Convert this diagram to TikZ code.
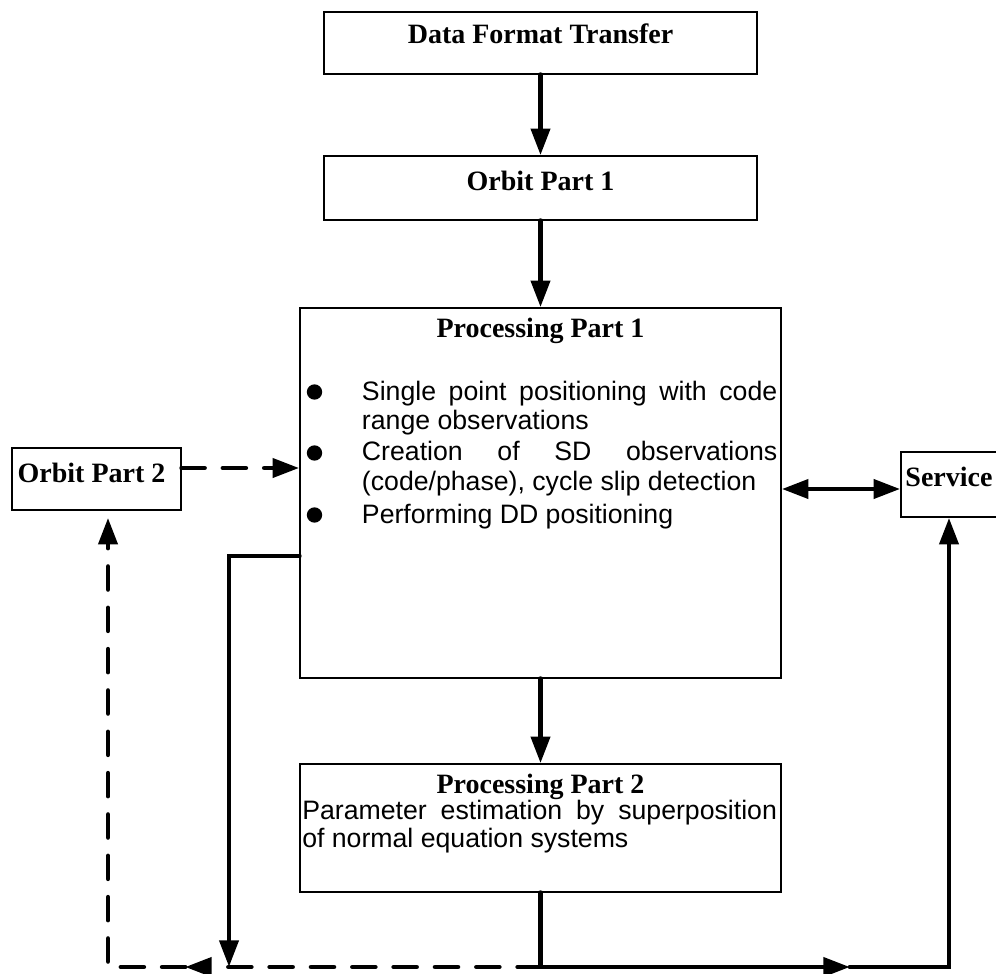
\documentclass[tikz,border=0pt]{standalone}
\usepackage{fontspec}
\setmainfont{Liberation Serif}
\newfontfamily\arialf{Liberation Sans}
\usetikzlibrary{arrows.meta,calc}
\begin{document}
\begin{tikzpicture}[x=0.75pt,y=-0.75pt,
  box/.style={draw, line width=1.1pt, inner sep=0pt, rectangle},
  ttl/.style={font=\bfseries\fontsize{21}{24}\selectfont, inner sep=0pt, anchor=base},
  body/.style={font=\arialf\fontsize{20}{23}\selectfont, inner sep=0pt, anchor=base west},
  conn/.style={line width=3.7pt, line cap=round, line join=miter},
  tip/.style={-{Triangle[length=20pt,width=14pt]}},
  dbltip/.style={{Triangle[length=20pt,width=14pt]}-{Triangle[length=20pt,width=14pt]}},
  dsh/.style={dash pattern=on 17pt off 14pt},
  dot/.style={circle, fill, inner sep=0pt, minimum size=11.5pt}]
\useasboundingbox (0,0) rectangle (996,974);
\clip (0,0) rectangle (996,974);

% boxes
\node[box, minimum width=324.75pt, minimum height=46.5pt] (dft) at (540.5,43) {};
\node[box, minimum width=324.75pt, minimum height=48pt] (o1) at (540.5,188) {};
\node[box, minimum width=360.75pt, minimum height=277.5pt] (p1) at (540.5,493) {};
\node[box, minimum width=360.75pt, minimum height=96pt] (p2) at (540.5,828) {};
\node[box, minimum width=126.75pt, minimum height=46.5pt] (o2) at (96.5,479) {};
\node[box, minimum width=72pt, minimum height=48.75pt] (svc) at (949,484.5) {};

% titles
\node[ttl] (dftt) at (540.5,44) {Data Format Transfer};
\node[ttl] (o1t) at (540.5,190.7) {Orbit Part 1};
\node[ttl] (p1t) at (540.5,337.3) {Processing Part 1};
\node[ttl] (p2t) at (540.5,793.3) {Processing Part 2};
\node[ttl] (o2t) at (91.5,482.3) {Orbit Part 2};
\node[ttl] (svct) at (949,486) {Service};

% body of Processing Part 1
\node[dot] (d1) at (314.5,392) {};
\node[dot] (d2) at (314.5,453) {};
\node[dot] (d3) at (314.5,515) {};
\node[body] (l1) at (361.7,400) {\makebox[311.5pt][s]{Single point positioning with code}};
\node[body] (l2) at (361.7,429.5) {range observations};
\node[body] (l3) at (361.7,460) {\makebox[311.5pt][s]{Creation of SD observations}};
\node[body] (l4) at (361.7,490.5) {(code/phase), cycle slip detection};
\node[body] (l5) at (361.7,523) {Performing DD positioning};

% body of Processing Part 2
\node[body] (m1) at (302,819.3) {\makebox[356pt][s]{Parameter estimation by superposition}};
\node[body] (m2) at (302,847.7) {of normal equation systems};

% coordinates
\coordinate (o2out) at ($(o2.east)+(0,-11)$);
\coordinate (sin) at ($(svc.west)+(0,4.5)$);
\coordinate (p1out) at ($(p1.west)+(0,63)$);
\coordinate (bl) at (229,967);
\coordinate (bm) at (p2.south |- bl);
\coordinate (rmid) at (850,967);
\coordinate (lmid) at (185,967);
\coordinate (o2in) at ($(o2.south)+(11.5,7)$);

% connectors
\draw[conn,tip] (dft.south) -- (o1.north);
\draw[conn,tip] (o1.south) -- (p1.north);
\draw[conn,tip] (p1.south) -- (p2.north);
\draw[conn,tip,dsh] (o2out) -- (o2out -| p1.west);
\draw[conn,dbltip] (sin -| p1.east) -- (sin);
\draw[conn,tip] (p1out) -| (bl);
\draw[conn,tip] (p2.south) |- (rmid);
\draw[conn,tip] (rmid) -| (svc.south);
\draw[conn,tip,dsh] (bm) -- (lmid);
\draw[conn,tip,dsh] (lmid) -| (o2in);
\end{tikzpicture}
\end{document}
